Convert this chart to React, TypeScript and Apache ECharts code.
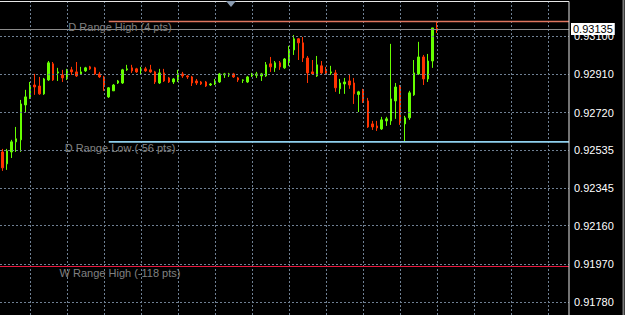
import React, { useEffect, useRef } from 'react';
import * as echarts from 'echarts';

// OHLC (price units)
const opens = [
  0.92525, 0.92466, 0.92525, 0.92575, 0.92585, 0.92758, 0.92793, 0.92857, 0.92852, 0.92813,
  0.92882, 0.92962, 0.92917, 0.92907, 0.92887, 0.92932, 0.92922, 0.92912, 0.92927, 0.92947,
  0.92942, 0.92912, 0.92897, 0.92798, 0.92828, 0.92867, 0.92867, 0.92932, 0.92942, 0.92937,
  0.92927, 0.92937, 0.92932, 0.92922, 0.92867, 0.92917, 0.92892, 0.92872, 0.92882, 0.92912,
  0.92902, 0.92897, 0.92877, 0.92872, 0.92872, 0.92857, 0.92862, 0.92872, 0.92907, 0.92907,
  0.92912, 0.92892, 0.9288, 0.92872, 0.92902, 0.92905, 0.92902, 0.92902, 0.92962, 0.92942,
  0.92967, 0.92942, 0.92976, 0.93031, 0.93086, 0.93066, 0.92991, 0.92922, 0.92902, 0.92952,
  0.92927, 0.92917, 0.92917, 0.92838, 0.92862, 0.92877, 0.92867, 0.9281, 0.92828, 0.92778,
  0.92664, 0.92654, 0.92639, 0.92679, 0.92679, 0.92778, 0.92847, 0.92664, 0.92694, 0.92808,
  0.92912, 0.92996, 0.92887, 0.92976, 0.93138,
];
const closes = [
  0.92446, 0.9253, 0.92575, 0.9259, 0.92763, 0.92798, 0.92852, 0.92847, 0.92813, 0.92887,
  0.92967, 0.92882, 0.92922, 0.92892, 0.92932, 0.92922, 0.92902, 0.92922, 0.92942, 0.92937,
  0.92912, 0.92897, 0.92852, 0.92843, 0.92857, 0.92877, 0.92932, 0.92937, 0.92927, 0.92922,
  0.92937, 0.92927, 0.92922, 0.92872, 0.92917, 0.92877, 0.92872, 0.92887, 0.92912, 0.92902,
  0.92897, 0.92867, 0.92867, 0.92862, 0.92852, 0.92862, 0.92877, 0.92912, 0.92912, 0.92912,
  0.92897, 0.92882, 0.92882, 0.92897, 0.92912, 0.92912, 0.92912, 0.92957, 0.92947, 0.92967,
  0.92947, 0.92986, 0.93031, 0.93086, 0.93066, 0.92991, 0.92917, 0.92912, 0.92957, 0.92917,
  0.92917, 0.92922, 0.92843, 0.92867, 0.92872, 0.92857, 0.92813, 0.92823, 0.92773, 0.92649,
  0.92649, 0.92644, 0.92684, 0.92689, 0.92788, 0.92847, 0.92669, 0.92694, 0.92818, 0.92917,
  0.92996, 0.92887, 0.92976, 0.9314, 0.93135,
];
const highs = [
  0.9254, 0.9254, 0.92585, 0.92649, 0.92783, 0.92833, 0.92872, 0.92912, 0.92897, 0.92892,
  0.92976, 0.92971, 0.92942, 0.92932, 0.92937, 0.92947, 0.92971, 0.92947, 0.92947, 0.92952,
  0.92947, 0.92922, 0.92902, 0.92847, 0.92862, 0.92882, 0.92937, 0.92957, 0.92957, 0.92942,
  0.92947, 0.92947, 0.92957, 0.92927, 0.92937, 0.92937, 0.92897, 0.92892, 0.92932, 0.92922,
  0.92907, 0.92902, 0.92887, 0.92877, 0.92877, 0.92867, 0.92887, 0.92917, 0.92917, 0.92917,
  0.92917, 0.92897, 0.92885, 0.92902, 0.92917, 0.92922, 0.92917, 0.92971, 0.92996, 0.92976,
  0.92976, 0.92991, 0.93051, 0.93105, 0.9309, 0.93095, 0.93001, 0.92981, 0.93001, 0.92976,
  0.92947, 0.92952, 0.92932, 0.92887, 0.92892, 0.92912, 0.92892, 0.92828, 0.92838, 0.92793,
  0.92679, 0.92679, 0.92699, 0.92699, 0.93061, 0.92867, 0.92857, 0.92704, 0.92828, 0.92981,
  0.93071, 0.93006, 0.93011, 0.9314, 0.93171,
];
const lows = [
  0.92431, 0.92436, 0.92495, 0.92525, 0.92525, 0.92719, 0.92788, 0.92808, 0.92808, 0.92808,
  0.92877, 0.92877, 0.92877, 0.92872, 0.92882, 0.92907, 0.92897, 0.92907, 0.92922, 0.92932,
  0.92907, 0.92892, 0.92828, 0.92793, 0.92828, 0.92862, 0.92862, 0.92927, 0.92917, 0.92917,
  0.92912, 0.92922, 0.92917, 0.92862, 0.92862, 0.92872, 0.92867, 0.92862, 0.92872, 0.92892,
  0.92887, 0.92852, 0.92857, 0.92857, 0.92847, 0.92852, 0.92857, 0.92867, 0.92892, 0.92897,
  0.92892, 0.92872, 0.92867, 0.92867, 0.92897, 0.92892, 0.92877, 0.92897, 0.92922, 0.92922,
  0.92932, 0.92937, 0.92952, 0.93006, 0.92981, 0.92971, 0.92867, 0.92907, 0.92897, 0.92912,
  0.92912, 0.92907, 0.92823, 0.92813, 0.92813, 0.92838, 0.92763, 0.92723, 0.92768, 0.92644,
  0.92634, 0.92629, 0.92634, 0.92654, 0.92659, 0.92689, 0.92659, 0.92575, 0.92684, 0.92803,
  0.92907, 0.92857, 0.92872, 0.92942, 0.93115,
];

const totalSlots = 123; // bars incl. empty space on the right
const priceTicks = [0.931, 0.9291, 0.9272, 0.92535, 0.92345, 0.9216, 0.9197, 0.9178];
const timeGridBars = [6, 14, 22, 30, 38, 46, 54, 62, 70, 78, 86, 94, 102, 110, 118];
const bidPrice = 0.93135;

const levelNames = ['D Range High (4 pts)', 'D Range Low (-56 pts)', 'W Range High (-118 pts)'];
const levelPrices = [0.93172, 0.92575, 0.91955];
const levelStartBars: (number | null)[] = [23, 23, null];
const levelColors = ['#e0765f', '#8fd0ee', '#e8183f'];
const levelWidths = [1.6, 1.6, 1];

const GREEN = '#66ff00';
const RED = '#ff3300';

export default function App() {
  const ref = useRef<HTMLDivElement>(null);
  useEffect(() => {
    const chart = echarts.init(ref.current!, undefined, { renderer: 'svg' });
    const categories = Array.from({ length: totalSlots }, (_, i) => String(i));
    const candleData = opens.map((o, i) => [o, closes[i], lows[i], highs[i]]);
    const gridLeft = -0.5;
    const gridTop = 1;
    const gridWidth = 569.5;
    const gridHeight = 314;
    const yMax = 0.932736;
    const yMin = 0.9171616;
    const font = 'Liberation Sans';

    chart.setOption({
      animation: false,
      backgroundColor: '#000000',
      grid: { left: gridLeft, top: gridTop, width: gridWidth, height: gridHeight },
      xAxis: {
        type: 'category',
        data: categories,
        boundaryGap: true,
        axisLine: { show: false },
        axisTick: { show: false },
        axisLabel: { show: false },
        splitLine: { show: false },
      },
      yAxis: {
        type: 'value',
        min: yMin,
        max: yMax,
        scale: true,
        axisLine: { show: false },
        axisTick: { show: false },
        axisLabel: { show: false },
        splitLine: { show: false },
      },
      series: [
        {
          type: 'line',
          data: [],
          z: 1,
          silent: true,
          markLine: {
            silent: true,
            animation: false,
            precision: 5,
            symbol: ['none', 'none'],
            lineStyle: { color: '#6f8093', type: [2, 2], width: 1 },
            label: { show: false },
            data: [
              ...priceTicks.map((v) => ({
                yAxis: v,
                label: {
                  show: true,
                  position: 'end',
                  distance: 5,
                  formatter: v.toFixed(5),
                  color: '#ffffff',
                  fontFamily: font,
                  fontSize: 11,
                },
              })),
              ...timeGridBars.map((b) => ({ xAxis: categories[b] })),
            ],
          },
        },
        {
          type: 'candlestick',
          data: candleData,
          z: 3,
          barWidth: 2,
          itemStyle: {
            color: GREEN,
            color0: RED,
            borderColor: GREEN,
            borderColor0: RED,
            borderWidth: 1,
          },
        },
        {
          type: 'line',
          data: [],
          z: 6,
          silent: true,
          markLine: {
            silent: true,
            animation: false,
            precision: 5,
            symbol: ['none', 'none'],
            lineStyle: { color: '#8c8c8c', type: 'solid', width: 1 },
            data: [
              {
                yAxis: bidPrice,
                label: {
                  show: true,
                  position: 'end',
                  distance: 2,
                  formatter: bidPrice.toFixed(5),
                  color: '#000000',
                  backgroundColor: '#ffffff',
                  padding: [1, 2, 0, 2],
                  fontFamily: font,
                  fontSize: 11,
                },
              },
            ],
          },
        },
      ],
    });

    const rightEdge = gridLeft + gridWidth;
    const toPx = (bar: number, price: number) =>
      chart.convertToPixel({ xAxisIndex: 0, yAxisIndex: 0 }, [categories[bar], price]) as number[];

    const graphics: any[] = [];
    levelPrices.forEach((p, k) => {
      const start = levelStartBars[k];
      const rawY = toPx(0, p)[1];
      const y = levelWidths[k] === 1 ? Math.floor(rawY) + 0.5 : rawY;
      const x1 = start === null ? 0 : toPx(start, p)[0];
      graphics.push({
        type: 'line',
        z: 20,
        silent: true,
        shape: { x1, y1: y, x2: rightEdge, y2: y },
        style: { stroke: levelColors[k], lineWidth: levelWidths[k] },
      });
      graphics.push({
        type: 'text',
        z: 21,
        silent: true,
        x: 120,
        y: y + 6,
        style: {
          text: levelNames[k],
          fill: '#808080',
          font: `11px "${font}"`,
          textAlign: 'center',
          textVerticalAlign: 'middle',
        },
      });
    });
    // chart frame
    graphics.push({
      type: 'polyline',
      z: 30,
      silent: true,
      shape: { points: [[0, 1.5], [rightEdge, 1.5], [rightEdge, 315]] },
      style: { stroke: '#e6e6e6', lineWidth: 1, fill: null },
    });
    graphics.push({
      type: 'polygon',
      z: 30,
      silent: true,
      shape: { points: [[226, 1], [236, 1], [231, 7]] },
      style: { fill: '#8a9bb0' },
    });
    graphics.push({
      type: 'line',
      z: 30,
      silent: true,
      shape: { x1: 623.5, y1: 0, x2: 623.5, y2: 315 },
      style: { stroke: '#7a7a7a', lineWidth: 2 },
    });
    chart.setOption({ graphic: graphics });

    return () => chart.dispose();
  }, []);

  return (
    <div
      ref={ref}
      style={{ position: 'fixed', left: 0, top: 0, width: 625, height: 315, background: '#000' }}
    />
  );
}
